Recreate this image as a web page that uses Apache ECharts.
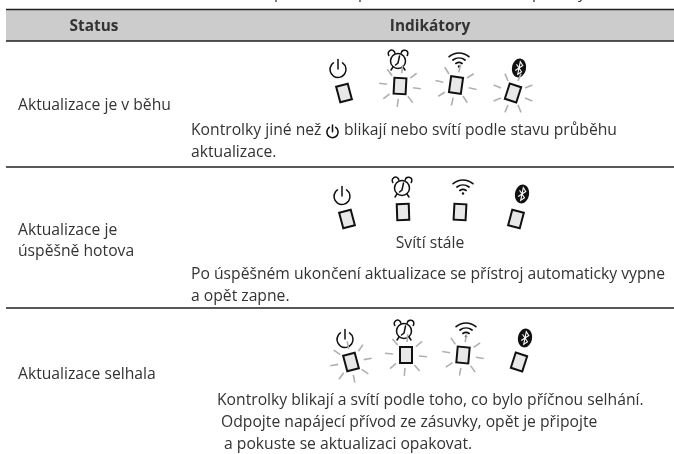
<!DOCTYPE html>
<html><head><meta charset="utf-8">
<style>html,body{margin:0;padding:0;background:#fff}#c{width:674px;height:454px}</style>
<script src="https://cdn.jsdelivr.net/npm/echarts@6/dist/echarts.min.js"></script>
</head><body><div id="c"></div>
<script>
const headers = ['Status', 'Indikátory'];
const statuses = [['Aktualizace je v běhu'], ['Aktualizace je', 'úspěšně hotova'], ['Aktualizace selhala']];
const indicatorNames = ['power', 'clock', 'wifi', 'bt'];
const blinkRow1 = [0, 1, 1, 1];
const blinkRow2 = [0, 0, 0, 0];
const blinkRow3 = [1, 1, 1, 0];
const notesRow1a = 'Kontrolky jiné než';
const notesRow1b = 'blikají nebo svítí podle stavu průběhu';
const notesRow1c = 'aktualizace.';
const steadyLabel = 'Svítí stále';
const notesRow2 = ['Po úspěšném ukončení aktualizace se přístroj automaticky vypne', 'a opět zapne.'];
const notesRow3 = ['Kontrolky blikají a svítí podle toho, co bylo příčnou selhání.', 'Odpojte napájecí přívod ze zásuvky, opět je připojte', 'a pokuste se aktualizaci opakovat.'];

const FONT = '"Open Sans"', INK = '#333333', GREY = '#b0b0b0', SIZE = '15.7px ';
const g = [];
function txt(x, y, s, o) {
  g.push({type:'text', x, y, style:Object.assign({text:s, fill:INK, font:SIZE+FONT, textVerticalAlign:'middle'}, o||{}), silent:true});
}
function hline(y, w) { g.push({type:'line', shape:{x1:6,y1:y,x2:674,y2:y}, style:{stroke:'#231f20', lineWidth:w}}); }
function strokeStyle(w){return {stroke:'#111', lineWidth:w, fill:null, lineCap:'round'};}
function powerIcon(cx, cy, w, k) {
  k = k || 1;
  return [
    {type:'arc', x:cx, y:cy, scaleX:k, scaleY:k, shape:{cx:0,cy:1.5,r:8,startAngle:-Math.PI/2+0.6,endAngle:-Math.PI/2-0.6+2*Math.PI}, style:strokeStyle(w||1.5)},
    {type:'line', x:cx, y:cy, scaleX:k, scaleY:k, shape:{x1:0,y1:-8.5,x2:0,y2:1}, style:strokeStyle(w||1.5)}
  ];
}
function clockIcon(cx, cy) {
  const s = strokeStyle(1.5);
  return [
    {type:'circle', x:cx, y:cy, shape:{cx:0,cy:1,r:7.5}, style:s},
    {type:'arc', x:cx, y:cy, shape:{cx:-6.5,cy:-6.5,r:3.3,startAngle:Math.PI*0.8,endAngle:Math.PI*1.95}, style:s},
    {type:'arc', x:cx, y:cy, shape:{cx:6.5,cy:-6.5,r:3.3,startAngle:Math.PI*1.05,endAngle:Math.PI*0.2+2*Math.PI}, style:s},
    {type:'polyline', x:cx, y:cy, shape:{points:[[1.5,-4],[0,3],[-2.5,5]]}, style:s},
    {type:'line', x:cx, y:cy, shape:{x1:-5,y1:7,x2:-7,y2:10}, style:s},
    {type:'line', x:cx, y:cy, shape:{x1:5,y1:7,x2:7,y2:10}, style:s}
  ];
}
function wifiIcon(cx, cy) {
  const s = strokeStyle(1.7), a = Math.PI*1.5;
  return [
    {type:'arc', x:cx, y:cy, shape:{cx:0,cy:8,r:15,startAngle:a-0.72,endAngle:a+0.72}, style:s},
    {type:'arc', x:cx, y:cy, shape:{cx:0,cy:8,r:10,startAngle:a-0.65,endAngle:a+0.65}, style:s},
    {type:'arc', x:cx, y:cy, shape:{cx:0,cy:8,r:5.5,startAngle:a-0.6,endAngle:a+0.6}, style:s},
    {type:'circle', x:cx, y:cy, shape:{cx:0,cy:6.5,r:1.2}, style:{fill:'#111'}}
  ];
}
function btIcon(cx, cy) {
  return [{type:'group', x:cx, y:cy, rotation:-0.2, children:[
    {type:'ellipse', shape:{cx:0,cy:0,rx:7,ry:9.5}, style:{fill:'#111'}},
    {type:'polyline', shape:{points:[[-3.2,-3.2],[3.2,3.2],[0,6.5],[0,-6.5],[3.2,-3.2],[-3.2,3.2]]}, style:{stroke:'#fff', lineWidth:1.1, fill:null}}
  ]}];
}
const iconFn = {power:powerIcon, clock:clockIcon, wifi:wifiIcon, bt:btIcon};
function led(cx, cy, deg, blink) {
  const r = deg*Math.PI/180, ch = [];
  if (blink) {
    for (let k = 0; k < 8; k++) {
      const a = Math.PI/4*k + 0.08;
      ch.push({type:'line', shape:{x1:Math.cos(a)*13,y1:Math.sin(a)*13,x2:Math.cos(a)*21,y2:Math.sin(a)*21}, style:{stroke:GREY, lineWidth:1.6}});
    }
  }
  ch.push({type:'rect', shape:{x:-6,y:-8,width:12,height:16}, style:{fill:'#e8e8e8', stroke:'#111', lineWidth:2}});
  g.push({type:'group', x:cx, y:cy, rotation:r, children:ch});
}
// clipped descenders of the line above the table
[['p',274],['p',358],['p',532],['y',578]].forEach(d => txt(d[1], -6, d[0]));
// header
g.push({type:'rect', shape:{x:6,y:10,width:668,height:31}, style:{fill:'#cccccc'}});
hline(9.5, 1.5); hline(41, 1.5); hline(167, 1.5); hline(308, 1.5);
txt(94, 26.5, headers[0], {font:'bold 15.4px '+FONT, textAlign:'center'});
txt(430, 26.5, headers[1], {font:'bold 15.4px '+FONT, textAlign:'center'});
// status column
txt(18, 106, statuses[0][0]);
txt(18, 231, statuses[1][0]); txt(18, 252, statuses[1][1]);
txt(18, 375, statuses[2][0]);
// icons
const layout = [
  {blink:blinkRow1, icons:[[338,68],[398,60],[459,60],[519,68]], leds:[[344,93,15],[400,86,-3],[456,85,-8],[513,93,-18]]},
  {blink:blinkRow2, icons:[[342,195],[402,187],[463,187],[522,194]], leds:[[347,219,15],[403,212,2],[460,212,-3],[516,219,-15]]},
  {blink:blinkRow3, icons:[[345,338],[404,330],[466,330],[525,338]], leds:[[351,362,15],[406,355,0],[463,355,-5],[519,362,-18]]}
];
layout.forEach(row => indicatorNames.forEach((n,i) => {
  iconFn[n](row.icons[i][0], row.icons[i][1]).forEach(e => g.push(e));
  led(row.leds[i][0], row.leds[i][1], row.leds[i][2], row.blink[i]);
}));
// notes
txt(191, 131, notesRow1a);
powerIcon(332.5, 131, 2.2, 0.7).forEach(e => g.push(e));
txt(344, 131, notesRow1b);
txt(191, 152.5, notesRow1c);
txt(430, 244, steadyLabel, {textAlign:'center'});
txt(191, 275, notesRow2[0]); txt(191, 297, notesRow2[1]);
txt(217, 401, notesRow3[0]); txt(221, 423, notesRow3[1]); txt(224, 445, notesRow3[2]);

const chart = echarts.init(document.getElementById('c'), null, {renderer:'canvas'});
chart.setOption({backgroundColor:'#fff', animation:false, graphic:{elements:g}});
</script></body></html>
